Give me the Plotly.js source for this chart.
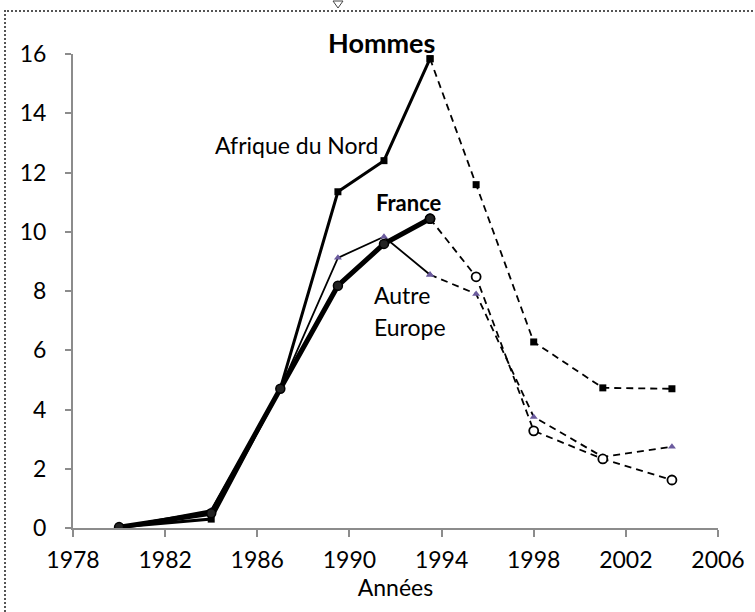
<!DOCTYPE html>
<html>
<head>
<meta charset="utf-8">
<script src="https://cdn.plot.ly/plotly-3.0.1.min.js"></script>
<style>
  html, body { margin: 0; padding: 0; background: #fff; }
  #wrap { position: relative; width: 755px; height: 612px; overflow: hidden; }
  #chart { position: absolute; left: 0; top: 0; width: 755px; height: 612px; }
  #frame { position: absolute; left: 4px; top: 10px; width: 770px; height: 640px;
           border-left: 2px dotted #555; border-top: 2px dotted #555; pointer-events: none; }
  #handle { position: absolute; left: 332px; top: 0px; pointer-events: none; }
</style>
</head>
<body>
<div id="wrap">
  <div id="chart"></div>
  <div id="frame"></div>
  <svg id="handle" width="12" height="10"><path d="M1,1 L11,1 L6,8 Z" fill="#fff" stroke="#444" stroke-width="1"/></svg>
</div>
<script>
// Survey years
const years = [1980, 1984, 1987, 1989.5, 1991.5, 1993.5, 1995.5, 1998, 2001, 2004];
// Values per origin group (Hommes)
const afriqueNord = [0.03, 0.3, 4.7, 11.35, 12.4, 15.84, 11.59, 6.28, 4.73, 4.70];
const france      = [0.03, 0.5, 4.7, 8.18, 9.59, 10.44, 8.48, 3.28, 2.33, 1.62];
const autreEurope = [0.03, 0.6, 4.7, 9.12, 9.83, 8.55, 7.9, 3.75, 2.4, 2.74];
const xTicks = [1978, 1982, 1986, 1990, 1994, 1998, 2002, 2006];
const yTicks = [0, 2, 4, 6, 8, 10, 12, 14, 16];
const splitIdx = 5; // last solid point / first dashed point

const solidPart = a => a.slice(0, splitIdx + 1);
const dashPart = a => a.slice(splitIdx);

const FONT = 'Lato, "Open Sans", sans-serif';
const purple = '#6b5b9e';

const traces = [
  // dashed parts first (underneath)
  { x: dashPart(years), y: dashPart(afriqueNord), mode: 'lines+markers',
    line: { color: '#000', width: 1.8, dash: '7px,5px' },
    marker: { symbol: 'square', size: 7, color: '#000' } },
  { x: dashPart(years), y: dashPart(autreEurope), mode: 'lines+markers',
    line: { color: '#000', width: 1.8, dash: '7px,5px' },
    marker: { symbol: 'triangle-up', size: 7, color: purple } },
  { x: dashPart(years), y: dashPart(france), mode: 'lines+markers',
    line: { color: '#000', width: 1.8, dash: '7px,5px' },
    marker: { symbol: 'circle', size: 9, color: '#fff', line: { color: '#000', width: 1.8 } } },
  // solid parts
  { x: solidPart(years), y: solidPart(afriqueNord), mode: 'lines+markers',
    line: { color: '#000', width: 3 },
    marker: { symbol: 'square', size: 7, color: '#000' } },
  { x: solidPart(years), y: solidPart(autreEurope), mode: 'lines+markers',
    line: { color: '#000', width: 1.8 },
    marker: { symbol: 'triangle-up', size: 7, color: purple } },
  { x: solidPart(years), y: solidPart(france), mode: 'lines+markers',
    line: { color: '#000', width: 5 },
    marker: { symbol: 'circle', size: 9, color: '#222', line: { color: '#000', width: 1.5 } } }
];

const layout = {
  width: 755, height: 612,
  margin: { l: 73, r: 37, t: 54, b: 84 },
  paper_bgcolor: 'rgba(0,0,0,0)', plot_bgcolor: 'rgba(0,0,0,0)',
  showlegend: false,
  font: { family: FONT, size: 23, color: '#000' },
  xaxis: {
    range: [1978, 2006], tickvals: xTicks, ticktext: xTicks.map(String),
    showgrid: false, zeroline: false, showline: true, linecolor: '#8c8c8c', linewidth: 2,
    ticks: 'outside', ticklen: 7, tickwidth: 2, tickcolor: '#8c8c8c', ticklabelstandoff: 3,
    tickfont: { family: FONT, size: 23, color: '#000' },
    title: { text: 'Années', font: { family: FONT, size: 23, color: '#000' }, standoff: 0 }
  },
  yaxis: {
    range: [0, 16], tickvals: yTicks, ticktext: yTicks.map(String),
    showgrid: false, zeroline: false, showline: true, linecolor: '#8c8c8c', linewidth: 2,
    ticks: 'outside', ticklen: 6, tickwidth: 2, tickcolor: '#8c8c8c', ticklabelstandoff: 14,
    tickfont: { family: FONT, size: 23, color: '#000' }
  },
  annotations: [
    { text: '<b>Hommes</b>', x: 0.479, y: 1.025, xref: 'paper', yref: 'paper',
      xanchor: 'center', yanchor: 'middle', showarrow: false,
      font: { family: FONT, size: 27, color: '#000' } },
    { text: 'Afrique du Nord', x: 1987.7, y: 12.94, xref: 'x', yref: 'y', showarrow: false,
      font: { family: FONT, size: 23, color: '#000' } },
    { text: '<b>France</b>', x: 1992.6, y: 10.98, xref: 'x', yref: 'y', showarrow: false,
      font: { family: FONT, size: 22, color: '#000' } },
    { text: 'Autre', x: 1991.0, y: 7.87, xref: 'x', yref: 'y', xanchor: 'left', showarrow: false,
      font: { family: FONT, size: 23, color: '#000' } },
    { text: 'Europe', x: 1991.0, y: 6.79, xref: 'x', yref: 'y', xanchor: 'left', showarrow: false,
      font: { family: FONT, size: 23, color: '#000' } }
  ]
};

Plotly.newPlot('chart', traces, layout, { staticPlot: true, displayModeBar: false });
</script>
</body>
</html>
